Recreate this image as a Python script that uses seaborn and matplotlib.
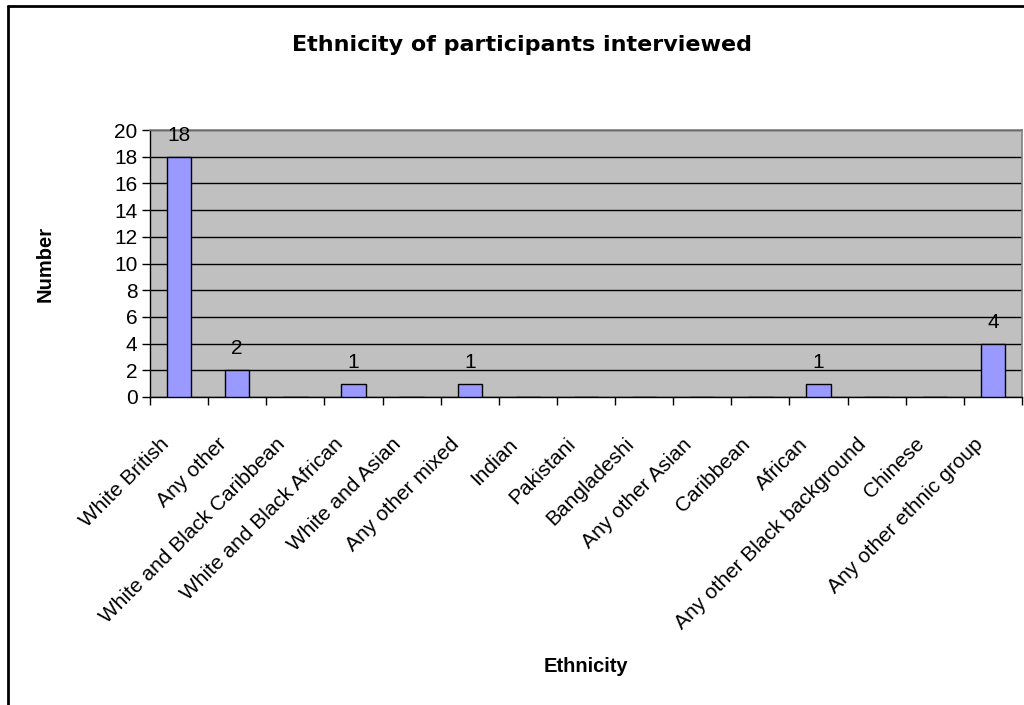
import matplotlib
matplotlib.use("Agg")
import matplotlib.pyplot as plt
from matplotlib.lines import Line2D
from matplotlib.ticker import FixedLocator
from matplotlib.transforms import ScaledTranslation
import numpy as np
import pandas as pd
import seaborn as sns

categories = [
    "White British", "Any other", "White and Black Caribbean",
    "White and Black African", "White and Asian", "Any other mixed",
    "Indian", "Pakistani", "Bangladeshi", "Any other Asian", "Caribbean",
    "African", "Any other Black background", "Chinese",
    "Any other ethnic group",
]
counts = [18, 2, 0, 1, 0, 1, 0, 0, 0, 0, 0, 1, 0, 0, 4]
y_ticks = list(range(0, 21, 2))

df = pd.DataFrame({"Ethnicity": categories, "Number": counts})

sns.set_style("white")
plt.rcParams["font.family"] = ["Liberation Sans", "DejaVu Sans"]
plt.rcParams["text.color"] = "black"
plt.rcParams["axes.labelcolor"] = "black"
plt.rcParams["xtick.color"] = "black"
plt.rcParams["ytick.color"] = "black"

fig = plt.figure(figsize=(10.24, 7.05), dpi=100)
x0, x1, y0, y1 = 150, 1022, 130, 397
ax = fig.add_axes([x0 / 1024, 1 - y1 / 705, (x1 - x0) / 1024, (y1 - y0) / 705])
ax.set_facecolor("#C0C0C0")

sns.barplot(data=df, x="Ethnicity", y="Number", ax=ax, color="#9999FF",
            edgecolor="black", linewidth=1.0, width=0.42, saturation=1,
            order=categories, zorder=3)

ax.set_xlim(-0.5, len(categories) - 0.5)
ax.set_ylim(0, 20)
ax.set_yticks(y_ticks)
ax.yaxis.grid(True, color="black", linewidth=1.0, zorder=1)
ax.set_axisbelow(True)

# category boundary tick marks, labels centred under bars
ax.xaxis.set_minor_locator(FixedLocator(np.arange(-0.5, len(categories), 1.0)))
ax.tick_params(axis="x", which="major", length=0, labelsize=15, pad=27, bottom=True)
ax.tick_params(axis="x", which="minor", length=6, width=1, color="black",
               direction="out", bottom=True)
ax.tick_params(axis="y", length=6, width=1, color="black", direction="out",
               labelsize=15, pad=3, left=True)
shift = ScaledTranslation(-20 / 100, 0, fig.dpi_scale_trans)
for lbl in ax.get_xticklabels():
    lbl.set_rotation(45)
    lbl.set_ha("right")
    lbl.set_va("top")
    lbl.set_rotation_mode("anchor")
    lbl.set_transform(lbl.get_transform() + shift)

for side in ("top", "right"):
    ax.spines[side].set_color("#808080")
    ax.spines[side].set_linewidth(1.2)
for side in ("left", "bottom"):
    ax.spines[side].set_color("black")
    ax.spines[side].set_linewidth(1.0)

# value labels on non-zero bars
for i, v in enumerate(counts):
    if v > 0:
        ax.text(i, v + 0.9, str(v), ha="center", va="bottom", fontsize=15,
                color="black", zorder=4)

ax.set_xlabel("Ethnicity", fontsize=14.5, fontweight="bold")
ax.xaxis.label.set_va("center")
ax.xaxis.set_label_coords(0.5, (y1 - 667) / (y1 - y0))
ax.set_ylabel("Number", fontsize=14.5, fontweight="bold")
ax.yaxis.label.set_va("center")
ax.yaxis.set_label_coords((45 - x0) / (x1 - x0), 0.5)

fig.text(522 / 1024, 1 - 45 / 705, "Ethnicity of participants interviewed",
         ha="center", va="center", fontsize=16, fontweight="bold",
         family=["DejaVu Sans"])

# chart frame
fig.add_artist(Line2D([8 / 1024, 8 / 1024], [0, 1 - 6 / 705], color="black",
                      linewidth=2, transform=fig.transFigure))
fig.add_artist(Line2D([8 / 1024, 1.0], [1 - 6 / 705, 1 - 6 / 705], color="black",
                      linewidth=2, transform=fig.transFigure))

fig.savefig("out.png", dpi=100, facecolor="white")
